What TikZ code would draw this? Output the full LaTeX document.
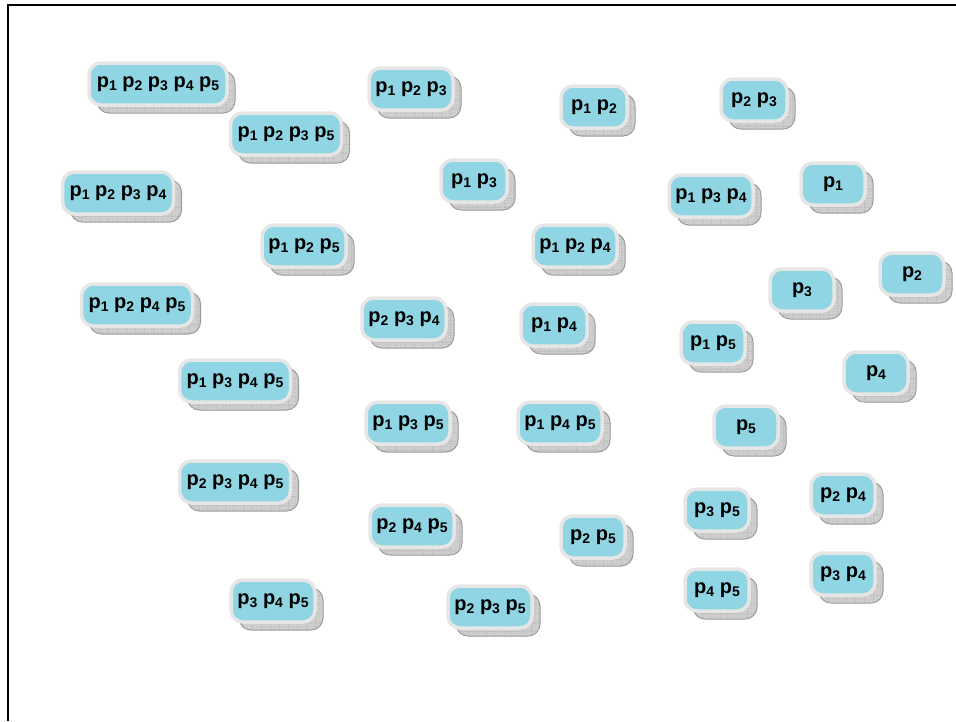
\documentclass[tikz,border=0pt]{standalone}
\usepackage{fontspec}
\setmainfont{Liberation Sans}
\usetikzlibrary{shadows,patterns,patterns.meta}
\definecolor{boxfill}{HTML}{8FD5E3}
\definecolor{boxedge}{HTML}{E6E6E6}
\definecolor{shadedge}{HTML}{9A9A9A}
\tikzdeclarepattern{name=biggrid, type=uncolored,
  bounding box={(0pt,0pt) and (9pt,9pt)}, tile size={(9pt,9pt)},
  code={\draw[line width=0.6pt] (0pt,0pt) -- (9pt,0pt) (0pt,0pt) -- (0pt,9pt);}}
\newcommand\ps[1]{p\raisebox{-3pt}{\fontsize{14}{16}\selectfont #1}}
\tikzset{
  box/.style={rounded corners=12pt, fill=boxfill, draw=boxedge, line width=3.5pt,
    minimum height=42pt, inner sep=0pt,
    font=\fontsize{20}{22}\selectfont\bfseries,
    general shadow={shadow xshift=8pt, shadow yshift=-8pt, fill=gray!35, draw=shadedge, line width=1pt},
    general shadow={shadow xshift=8pt, shadow yshift=-8pt, pattern={crosshatch dots}, pattern color=gray!55},
    general shadow={shadow xshift=8pt, shadow yshift=-8pt, pattern={biggrid}, pattern color=gray!65}},
  w1/.style={box, minimum width=64pt},
  w2/.style={box, minimum width=66pt},
  w3/.style={box, minimum width=84pt},
  w4/.style={box, minimum width=111pt},
  w5/.style={box, minimum width=138pt},
  frame/.style={line width=2.5pt, black}
}
\begin{document}
\begin{tikzpicture}[x=1pt,y=-1pt]
\useasboundingbox (0,0) rectangle (956,721);
\coordinate (tl) at (8,5);
\coordinate (tr) at (956,5);
\coordinate (bl) at (8,721);
\draw[frame] (tr) -- (tl) -- (bl);
\node[w5] (a12345) at (158,84) {\ps1 \ps2 \ps3 \ps4 \ps5};
\node[w3] (a123) at (411,89) {\ps1 \ps2 \ps3};
\node[w2] (a12) at (594,107) {\ps1 \ps2};
\node[w2] (a23) at (754,100) {\ps2 \ps3};
\node[w4] (a1235) at (286,134) {\ps1 \ps2 \ps3 \ps5};
\node[w2] (a13) at (474,181) {\ps1 \ps3};
\node[w3] (a134) at (711,196) {\ps1 \ps3 \ps4};
\node[w1] (a1) at (833,184) {\ps1};
\node[w4] (a1234) at (118,193) {\ps1 \ps2 \ps3 \ps4};
\node[w3] (a125) at (304,246) {\ps1 \ps2 \ps5};
\node[w3] (a124) at (575,246) {\ps1 \ps2 \ps4};
\node[w1] (a3) at (802,290) {\ps3};
\node[w1] (a2) at (912,274) {\ps2};
\node[w4] (a1245) at (137,305) {\ps1 \ps2 \ps4 \ps5};
\node[w3] (a234) at (404,319) {\ps2 \ps3 \ps4};
\node[w2] (a14) at (554,325) {\ps1 \ps4};
\node[w1] (a15) at (713,343) {\ps1 \ps5};
\node[w1] (a4) at (876,373) {\ps4};
\node[w4] (a1345) at (235,381) {\ps1 \ps3 \ps4 \ps5};
\node[w3] (a135) at (408,423) {\ps1 \ps3 \ps5};
\node[w3] (a145) at (560,423) {\ps1 \ps4 \ps5};
\node[w1] (a5) at (746,427) {\ps5};
\node[w4] (a2345) at (235,482) {\ps2 \ps3 \ps4 \ps5};
\node[w3] (a245) at (412,526) {\ps2 \ps4 \ps5};
\node[w1] (a25) at (593,537) {\ps2 \ps5};
\node[w1] (a35) at (717,510) {\ps3 \ps5};
\node[w1] (a24) at (843,495) {\ps2 \ps4};
\node[w3] (a345) at (273,601) {\ps3 \ps4 \ps5};
\node[w3] (a235) at (490,607) {\ps2 \ps3 \ps5};
\node[w1] (a45) at (717,590) {\ps4 \ps5};
\node[w1] (a34) at (843,574) {\ps3 \ps4};
\end{tikzpicture}
\end{document}
